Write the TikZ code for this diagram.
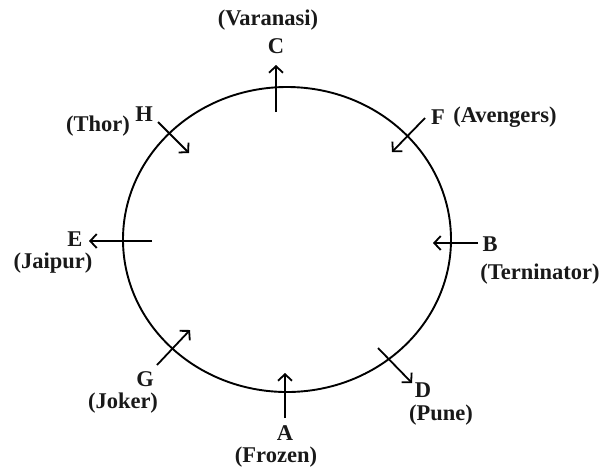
\documentclass[tikz,border=0pt]{standalone}
\usepackage{fontspec}
\setmainfont{Liberation Serif}
\usetikzlibrary{arrows.meta}
\begin{document}
\begin{tikzpicture}[x=1pt,y=-1pt,
  lbl/.style={font=\fontsize{22.5}{24}\selectfont\bfseries, inner sep=0pt, text=black!90},
  ptr/.style={line width=1.8pt, -{Straight Barb[length=6.5pt,width=14pt,line width=1.8pt]}},
  ring/.style={line width=1.9pt}]
\useasboundingbox (0,0) rectangle (610,467);
\draw[ring] (287,239.5) ellipse [x radius=164, y radius=152.5];
% labels
\node[lbl] (varanasi) at (268,20) {(Varanasi)};
\node[lbl] (C) at (276,46) {C};
\node[lbl] (thor) at (98,126) {(Thor)};
\node[lbl] (H) at (144,114) {H};
\node[lbl] (F) at (438,117) {F};
\node[lbl] (avengers) at (505,117) {(Avengers)};
\node[lbl] (E) at (75,239) {E};
\node[lbl] (jaipur) at (53,263) {(Jaipur)};
\node[lbl] (B) at (490,244) {B};
\node[lbl] (terninator) at (540,274) {(Terninator)};
\node[lbl] (G) at (145,379) {G};
\node[lbl] (joker) at (123,403) {(Joker)};
\node[lbl] (A) at (285,433) {A};
\node[lbl] (frozen) at (276,457) {(Frozen)};
\node[lbl] (D) at (423,390) {D};
\node[lbl] (pune) at (441,415) {(Pune)};
% arrow end points
\coordinate (c1) at (276,112); \coordinate (c2) at (276,65);
\coordinate (h1) at (158,122); \coordinate (h2) at (189,153);
\coordinate (f1) at (425,118); \coordinate (f2) at (392,152);
\coordinate (e1) at (152,241); \coordinate (e2) at (89,241);
\coordinate (b1) at (478,243); \coordinate (b2) at (433,243);
\coordinate (g1) at (157,365); \coordinate (g2) at (190,330);
\coordinate (a1) at (285,418); \coordinate (a2) at (285,373);
\coordinate (d1) at (378,348); \coordinate (d2) at (412,383);
\draw[ptr] (c1) -- (c2);
\draw[ptr] (h1) -- (h2);
\draw[ptr] (f1) -- (f2);
\draw[ptr] (e1) -- (e2);
\draw[ptr] (b1) -- (b2);
\draw[ptr] (g1) -- (g2);
\draw[ptr] (a1) -- (a2);
\draw[ptr] (d1) -- (d2);
\end{tikzpicture}
\end{document}
